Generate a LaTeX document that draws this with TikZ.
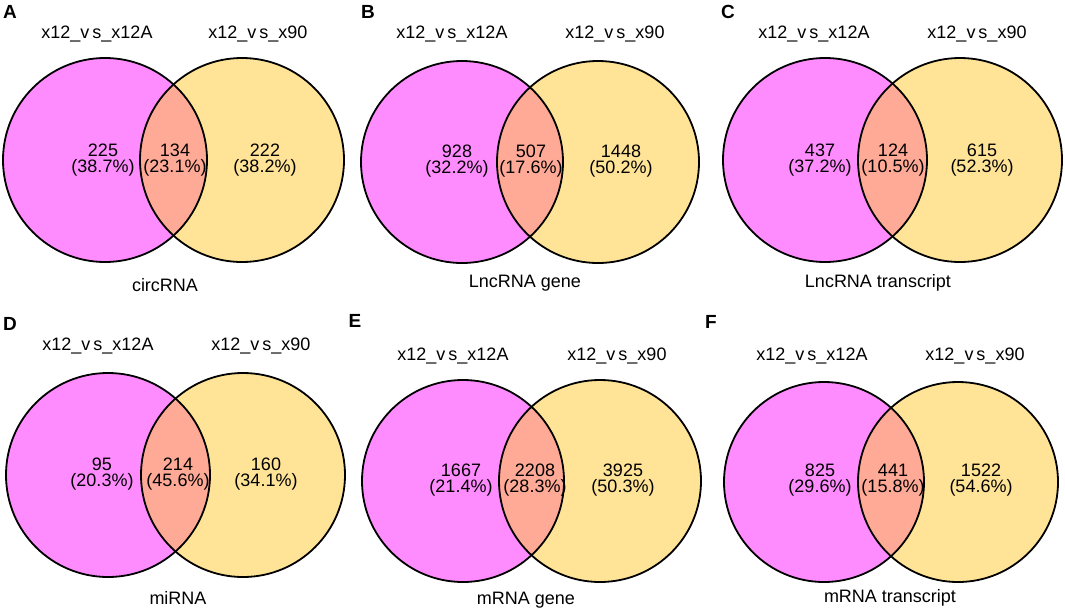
\documentclass[tikz,border=0pt]{standalone}
\usepackage{fontspec}
\setmainfont{Liberation Sans}
\definecolor{vpink}{RGB}{255,140,255}
\definecolor{vyellow}{RGB}{255,228,152}
\definecolor{vboth}{RGB}{255,170,150}
\begin{document}
\begin{tikzpicture}[x=1pt, y=-1pt,
    leftset/.style={fill=vpink},
    rightset/.style={fill=vyellow},
    bothset/.style={fill=vboth},
    ring/.style={draw=black, line width=1.8pt},
    count/.style={align=center, inner sep=0pt, font=\fontsize{18}{16}\selectfont},
    setname/.style={inner sep=0pt, font=\fontsize{18}{20}\selectfont},
    tag/.style={inner sep=0pt, font=\fontsize{19}{20}\selectfont\bfseries}]
\useasboundingbox (0,0) rectangle (1065,611);

\coordinate (A-l) at (105,160);
\coordinate (A-r) at (242,160);
\fill[leftset] (A-l) circle[radius=102pt];
\fill[rightset] (A-r) circle[radius=102pt];
\begin{scope}
  \clip (A-l) circle[radius=102pt];
  \fill[bothset] (A-r) circle[radius=102pt];
\end{scope}
\draw[ring] (A-l) circle[radius=102pt];
\draw[ring] (A-r) circle[radius=102pt];
\node[tag] (A-tag) at (10,12) {A};
\node[setname] (A-ln) at (97,34) {x12\_v\kern3pt s\_x12A};
\node[setname] (A-rn) at (258,34) {x12\_v\kern3pt s\_x90};
\node[count] (A-lc) at (103,160) {225\\(38.7\%)};
\node[count] (A-mc) at (175,160) {134\\(23.1\%)};
\node[count] (A-rc) at (265,160) {222\\(38.2\%)};
\node[setname] (A-name) at (165,285) {circRNA};

\coordinate (B-l) at (462,162);
\coordinate (B-r) at (598,162);
\fill[leftset] (B-l) circle[radius=101pt];
\fill[rightset] (B-r) circle[radius=101pt];
\begin{scope}
  \clip (B-l) circle[radius=101pt];
  \fill[bothset] (B-r) circle[radius=101pt];
\end{scope}
\draw[ring] (B-l) circle[radius=101pt];
\draw[ring] (B-r) circle[radius=101pt];
\node[tag] (B-tag) at (368,12) {B};
\node[setname] (B-ln) at (452,34) {x12\_v\kern3pt s\_x12A};
\node[setname] (B-rn) at (615,34) {x12\_v\kern3pt s\_x90};
\node[count] (B-lc) at (457,161) {928\\(32.2\%)};
\node[count] (B-mc) at (531,161) {507\\(17.6\%)};
\node[count] (B-rc) at (621,161) {1448\\(50.2\%)};
\node[setname] (B-name) at (525,283) {LncRNA gene};

\coordinate (C-l) at (825,160);
\coordinate (C-r) at (960,160);
\fill[leftset] (C-l) circle[radius=102pt];
\fill[rightset] (C-r) circle[radius=102pt];
\begin{scope}
  \clip (C-l) circle[radius=102pt];
  \fill[bothset] (C-r) circle[radius=102pt];
\end{scope}
\draw[ring] (C-l) circle[radius=102pt];
\draw[ring] (C-r) circle[radius=102pt];
\node[tag] (C-tag) at (728,12) {C};
\node[setname] (C-ln) at (814,34) {x12\_v\kern3pt s\_x12A};
\node[setname] (C-rn) at (977,34) {x12\_v\kern3pt s\_x90};
\node[count] (C-lc) at (820,160) {437\\(37.2\%)};
\node[count] (C-mc) at (893,160) {124\\(10.5\%)};
\node[count] (C-rc) at (982,160) {615\\(52.3\%)};
\node[setname] (C-name) at (878,283) {LncRNA transcript};

\coordinate (D-l) at (108,475);
\coordinate (D-r) at (243,475);
\fill[leftset] (D-l) circle[radius=102pt];
\fill[rightset] (D-r) circle[radius=102pt];
\begin{scope}
  \clip (D-l) circle[radius=102pt];
  \fill[bothset] (D-r) circle[radius=102pt];
\end{scope}
\draw[ring] (D-l) circle[radius=102pt];
\draw[ring] (D-r) circle[radius=102pt];
\node[tag] (D-tag) at (10,324) {D};
\node[setname] (D-ln) at (98,346) {x12\_v\kern3pt s\_x12A};
\node[setname] (D-rn) at (261,346) {x12\_v\kern3pt s\_x90};
\node[count] (D-lc) at (102,474) {95\\(20.3\%)};
\node[count] (D-mc) at (178,474) {214\\(45.6\%)};
\node[count] (D-rc) at (266,474) {160\\(34.1\%)};
\node[setname] (D-name) at (178,598) {miRNA};

\coordinate (E-l) at (463,481);
\coordinate (E-r) at (600,481);
\fill[leftset] (E-l) circle[radius=101pt];
\fill[rightset] (E-r) circle[radius=101pt];
\begin{scope}
  \clip (E-l) circle[radius=101pt];
  \fill[bothset] (E-r) circle[radius=101pt];
\end{scope}
\draw[ring] (E-l) circle[radius=101pt];
\draw[ring] (E-r) circle[radius=101pt];
\node[tag] (E-tag) at (355,321) {E};
\node[setname] (E-ln) at (453,356) {x12\_v\kern3pt s\_x12A};
\node[setname] (E-rn) at (617,356) {x12\_v\kern3pt s\_x90};
\node[count] (E-lc) at (461,480) {1667\\(21.4\%)};
\node[count] (E-mc) at (535,480) {2208\\(28.3\%)};
\node[count] (E-rc) at (623,480) {3925\\(50.3\%)};
\node[setname] (E-name) at (526,600) {mRNA gene};

\coordinate (F-l) at (824,482);
\coordinate (F-r) at (958,482);
\fill[leftset] (F-l) circle[radius=100pt];
\fill[rightset] (F-r) circle[radius=100pt];
\begin{scope}
  \clip (F-l) circle[radius=100pt];
  \fill[bothset] (F-r) circle[radius=100pt];
\end{scope}
\draw[ring] (F-l) circle[radius=100pt];
\draw[ring] (F-r) circle[radius=100pt];
\node[tag] (F-tag) at (711,322) {F};
\node[setname] (F-ln) at (812,356) {x12\_v\kern3pt s\_x12A};
\node[setname] (F-rn) at (975,356) {x12\_v\kern3pt s\_x90};
\node[count] (F-lc) at (820,480) {825\\(29.6\%)};
\node[count] (F-mc) at (893,480) {441\\(15.8\%)};
\node[count] (F-rc) at (981,480) {1522\\(54.6\%)};
\node[setname] (F-name) at (890,598) {mRNA transcript};
\end{tikzpicture}
\end{document}
